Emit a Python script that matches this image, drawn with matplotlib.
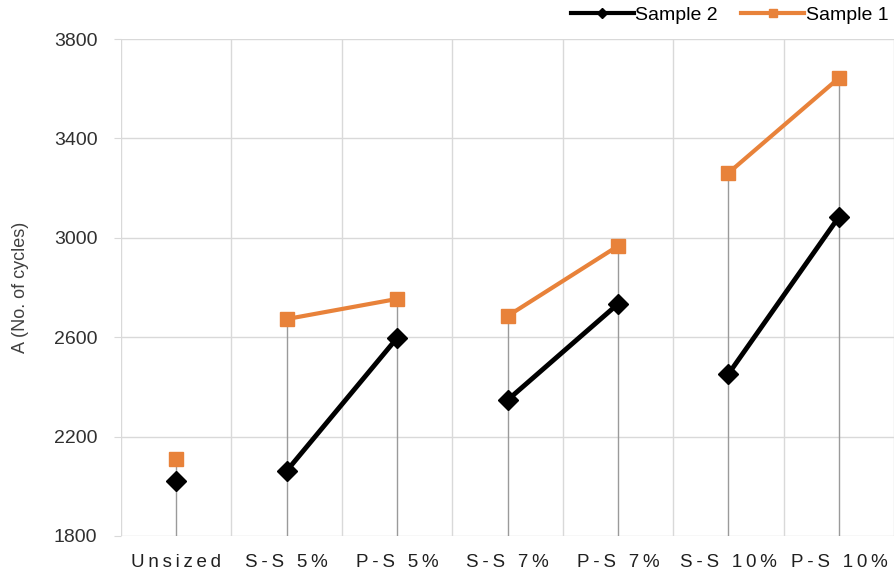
import matplotlib
matplotlib.use("Agg")
import matplotlib.pyplot as plt
import numpy as np
from matplotlib.lines import Line2D

categories = ["Unsized", "S-S 5%", "P-S 5%", "S-S 7%", "P-S 7%", "S-S 10%", "P-S 10%"]
sample1 = [2110, 2673, 2754, 2685, 2967, 3261, 3643]
sample2 = [2021, 2062, 2597, 2347, 2734, 2452, 3084]
pairs = [(1, 2), (3, 4), (5, 6)]
yticks = [1800, 2200, 2600, 3000, 3400, 3800]

plt.rcParams['font.family'] = ['Liberation Sans', 'DejaVu Sans']

fig = plt.figure(figsize=(8.95, 5.71), dpi=100)
ax = fig.add_axes([121/895, 1-536/571, 1-121/895-0.001, (536-39)/571])

x = np.arange(len(categories))
orange = '#E8823A'

# grid
for b in np.arange(-0.5, len(categories) + 0.5, 1.0):
    ax.axvline(b, color='#d9d9d9', lw=1.0, zorder=0)
for t in yticks:
    ax.axhline(t, color='#d9d9d9', lw=1.0, zorder=0)

# drop lines
for i in x:
    top = max(sample1[i], sample2[i])
    ax.plot([i, i], [1800, top], color='#9a9a9a', lw=1.0, zorder=1)

for a, b in pairs:
    ax.plot([x[a], x[b]], [sample1[a], sample1[b]], color=orange, lw=3, zorder=2)
    ax.plot([x[a], x[b]], [sample2[a], sample2[b]], color='black', lw=3.5, zorder=3)
ax.plot(x, sample1, 's', color=orange, ms=10.5, zorder=4)
ax.plot(x, sample2, 'D', color='black', ms=10, zorder=5)

def spaced(s):
    return "\u2009".join(s)

ax.set_xlim(-0.5, len(categories) - 0.5)
ax.set_ylim(1800, 3800)
ax.set_yticks(yticks)
ax.set_xticks(x)
ax.set_xticklabels([spaced(c) for c in categories], fontsize=13.5, color='#202020')
ax.tick_params(axis='y', labelsize=14, length=5, color='#d9d9d9', pad=12,
               labelcolor='#303030')
ax.tick_params(axis='x', length=0, pad=13)
for s in ax.spines.values():
    s.set_visible(False)
ax.set_ylabel("A (No. of cycles)", fontsize=13, color='#404040', labelpad=18)

handles = [Line2D([], [], color='black', lw=3, marker='D', ms=5),
           Line2D([], [], color=orange, lw=3, marker='s', ms=6)]
fig.legend(handles, ["Sample 2", "Sample 1"], loc='upper right',
           bbox_to_anchor=(1.012, 1.02), ncol=2, frameon=False, fontsize=14,
           handlelength=3.2, handletextpad=0.1, columnspacing=1.2)

fig.savefig("out.png", dpi=100)
